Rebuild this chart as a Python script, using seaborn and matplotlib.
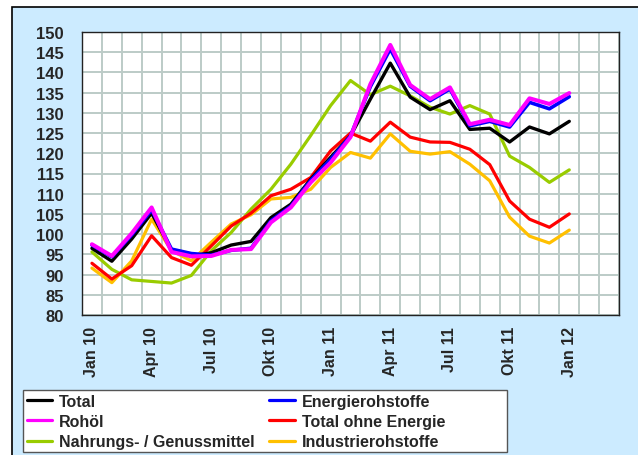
import numpy as np
import pandas as pd
import matplotlib
matplotlib.use('Agg')
import matplotlib.pyplot as plt
import seaborn as sns
from matplotlib.lines import Line2D
from matplotlib.patches import Rectangle

# months Jan 10 .. Jan 12
months = ['Jan 10', 'Feb 10', 'Mrz 10', 'Apr 10', 'Mai 10', 'Jun 10', 'Jul 10', 'Aug 10', 'Sep 10',
          'Okt 10', 'Nov 10', 'Dez 10', 'Jan 11', 'Feb 11', 'Mrz 11', 'Apr 11', 'Mai 11', 'Jun 11',
          'Jul 11', 'Aug 11', 'Sep 11', 'Okt 11', 'Nov 11', 'Dez 11', 'Jan 12']
tick_labels = ['Jan 10', 'Apr 10', 'Jul 10', 'Okt 10', 'Jan 11', 'Apr 11', 'Jul 11', 'Okt 11', 'Jan 12']

total = [96.5, 93.3, 98.8, 105.2, 96.0, 94.6, 95.4, 97.3, 98.2, 104.1, 107.4, 113.6, 119.0,
         124.3, 133.4, 142.3, 133.9, 130.8, 133.0, 125.9, 126.2, 122.8, 126.5, 124.8, 127.9]
energie = [97.3, 94.4, 99.8, 106.0, 96.3, 95.2, 94.8, 96.0, 96.5, 103.3, 106.9, 113.3, 118.5,
           124.3, 136.5, 145.8, 136.6, 133.0, 135.9, 126.8, 127.9, 126.5, 132.6, 131.0, 134.0]
rohoel = [97.5, 94.6, 100.2, 106.6, 95.6, 94.5, 94.6, 96.1, 96.3, 102.9, 106.6, 112.8, 117.7,
          124.0, 137.1, 146.8, 136.9, 133.4, 136.3, 127.2, 128.3, 127.0, 133.6, 132.2, 134.9]
ohne_energie = [92.8, 88.9, 92.2, 99.6, 94.2, 92.3, 97.1, 102.0, 105.2, 109.5, 111.1, 114.0, 120.6,
                125.0, 123.0, 127.7, 124.0, 122.8, 122.7, 121.0, 117.2, 108.2, 103.7, 101.7, 105.0]
nahrung = [95.6, 91.3, 88.7, 88.3, 87.9, 89.8, 95.9, 100.4, 106.2, 111.1, 117.3, 124.4, 131.8,
           138.0, 134.5, 136.6, 134.2, 131.4, 129.7, 131.8, 129.7, 119.3, 116.5, 112.8, 115.9]
industrie = [91.6, 88.0, 93.4, 103.7, 95.9, 93.4, 98.0, 102.5, 104.8, 108.7, 109.1, 111.1, 116.5,
             120.2, 118.8, 124.8, 120.5, 119.8, 120.4, 117.3, 113.2, 104.2, 99.5, 97.8, 101.0]

series = {
    'Total': total,
    'Energierohstoffe': energie,
    'Rohöl': rohoel,
    'Total ohne Energie': ohne_energie,
    'Nahrungs- / Genussmittel': nahrung,
    'Industrierohstoffe': industrie,
}
colors = {
    'Total': '#000000',
    'Energierohstoffe': '#0000FF',
    'Rohöl': '#FF00FF',
    'Total ohne Energie': '#FF0000',
    'Nahrungs- / Genussmittel': '#99CC00',
    'Industrierohstoffe': '#FFC000',
}
widths = {
    'Total': 2.4,
    'Energierohstoffe': 2.6,
    'Rohöl': 2.9,
    'Total ohne Energie': 2.3,
    'Nahrungs- / Genussmittel': 2.3,
    'Industrierohstoffe': 2.3,
}

rows = []
for name, vals in series.items():
    for i, v in enumerate(vals):
        rows.append({'idx': i, 'value': v, 'series': name})
df = pd.DataFrame(rows)

sns.set_style('white')
plt.rcParams['font.family'] = ['Liberation Sans', 'DejaVu Sans']

fig = plt.figure(figsize=(6.38, 4.56), dpi=100)
fig.patch.set_facecolor('white')
# light blue panel with black top / left edge
panel = Rectangle((12 / 638, -0.01), 1, 1.01 - 8 / 456, transform=fig.transFigure,
                  facecolor='#CCEBFF', edgecolor='black', linewidth=1.2, zorder=-5)
fig.add_artist(panel)

ax = fig.add_axes([82 / 638, 1 - 316 / 456, (619 - 82) / 638, (316 - 33) / 456])
ax.set_facecolor('white')

draw_order = ['Nahrungs- / Genussmittel', 'Industrierohstoffe', 'Total ohne Energie',
              'Total', 'Energierohstoffe', 'Rohöl']
for name in draw_order:
    sns.lineplot(data=df[df['series'] == name], x='idx', y='value', color=colors[name],
                 linewidth=widths[name], ax=ax, zorder=3)

ax.set_xlim(-0.5, 26.5)
ax.set_ylim(80, 150)
ax.set_yticks(np.arange(80, 151, 5))
ax.set_xticks(np.arange(-0.5, 27, 1))
ax.set_xticklabels([])
ax.set_xticks([months.index(t) for t in tick_labels], minor=True)
ax.set_xticklabels(tick_labels, minor=True, rotation=90, fontsize=11.5, fontweight='bold')
ax.tick_params(axis='x', which='minor', length=0, pad=8)
ax.tick_params(axis='x', which='major', direction='out', length=5, width=1, color='#333333')
ax.tick_params(axis='y', direction='out', length=7, width=1, color='#333333', pad=6)
for lbl in ax.get_yticklabels():
    lbl.set_fontsize(12)
    lbl.set_fontweight('bold')

ax.grid(True, which='major', color='#BCCBC7', linewidth=1.4)
ax.set_axisbelow(True)
for s in ax.spines.values():
    s.set_color('#222222')
    s.set_linewidth(1)
ax.set_xlabel('')
ax.set_ylabel('')

# legend box
box = Rectangle((23 / 638, 1 - 453 / 456), (507 - 23) / 638, (453 - 391) / 456,
                transform=fig.transFigure, facecolor='white', edgecolor='#555555',
                linewidth=1, zorder=1)
fig.add_artist(box)

legend_order = ['Total', 'Rohöl', 'Nahrungs- / Genussmittel',
                'Energierohstoffe', 'Total ohne Energie', 'Industrierohstoffe']
handles = [Line2D([0], [0], color=colors[n], linewidth=2.3) for n in legend_order]
leg = fig.legend(handles, legend_order, ncol=2, loc='upper left',
                 bbox_to_anchor=(25 / 638, 1 - 393 / 456), frameon=False,
                 handlelength=1.6, handletextpad=0.45, borderaxespad=0, borderpad=0.1,
                 labelspacing=0.33, columnspacing=0.9,
                 prop={'weight': 'bold', 'size': 11.5})
leg.set_zorder(2)

fig.savefig('out.png', dpi=100, facecolor=fig.get_facecolor())
